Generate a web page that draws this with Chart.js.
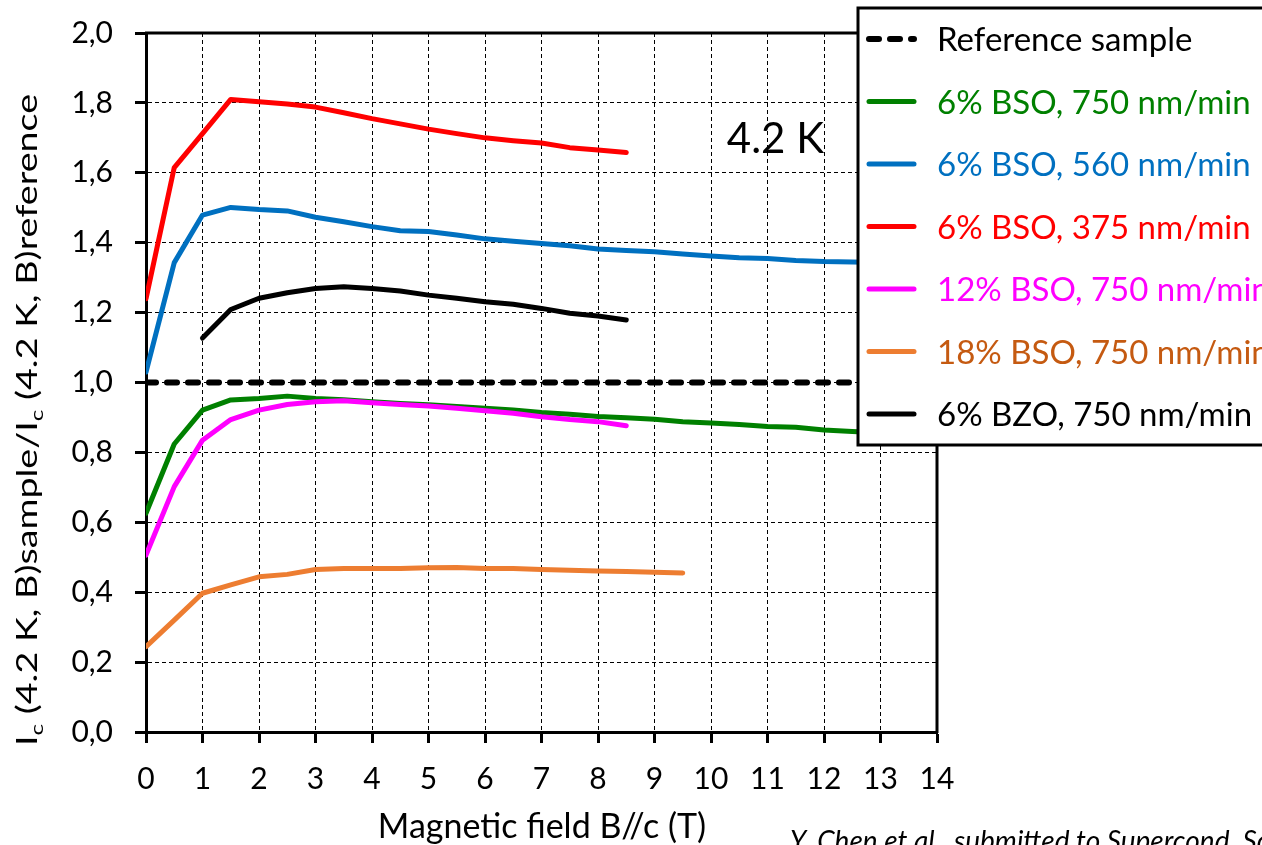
<!DOCTYPE html>
<html>
<head>
<meta charset="utf-8">
<script src="https://cdn.jsdelivr.net/npm/chart.js@4.4.0/dist/chart.umd.min.js"></script>
<style>
    html, body { margin: 0; padding: 0; background: #fff; overflow: hidden; }
    #wrap { width: 1262px; height: 845px; }
</style>
</head>
<body>
<div id="wrap"><canvas id="chart" width="1262" height="845"></canvas></div>
<script>
// magnetic field B//c (T)
const fieldB = [0, 0.5, 1, 1.5, 2, 2.5, 3, 3.5, 4, 4.5, 5, 5.5, 6, 6.5, 7, 7.5, 8, 8.5, 9, 9.5, 10, 10.5, 11, 11.5, 12, 12.5, 13];

// Ic(sample)/Ic(reference) at 4.2 K
const bso6_750 = [0.626, 0.824, 0.921, 0.950, 0.954, 0.961, 0.954, 0.951, 0.945, 0.940, 0.936, 0.931, 0.926, 0.921, 0.914, 0.909, 0.903, 0.899, 0.895, 0.888, 0.884, 0.880, 0.874, 0.872, 0.864, 0.860, 0.856];
const bso6_560 = [1.030, 1.343, 1.479, 1.501, 1.495, 1.491, 1.473, 1.460, 1.446, 1.434, 1.432, 1.422, 1.411, 1.404, 1.398, 1.391, 1.382, 1.378, 1.374, 1.368, 1.362, 1.357, 1.355, 1.349, 1.346, 1.345, 1.343];
const bso6_375 = [1.240, 1.615, 1.712, 1.810, 1.803, 1.797, 1.788, 1.772, 1.755, 1.740, 1.725, 1.712, 1.700, 1.692, 1.685, 1.672, 1.665, 1.658];
const bso12_750 = [0.506, 0.702, 0.835, 0.894, 0.921, 0.937, 0.945, 0.948, 0.942, 0.937, 0.933, 0.926, 0.919, 0.912, 0.902, 0.894, 0.888, 0.876];
const bso18_750 = [0.244, 0.320, 0.397, 0.421, 0.444, 0.451, 0.465, 0.468, 0.468, 0.468, 0.470, 0.471, 0.468, 0.468, 0.465, 0.463, 0.461, 0.459, 0.457, 0.455];
const bzo6_750 = [1.127, 1.209, 1.241, 1.257, 1.269, 1.274, 1.269, 1.262, 1.250, 1.241, 1.231, 1.224, 1.212, 1.198, 1.190, 1.179]; // from 1 T

const refField = [0, 14];
const refValue = [1, 1];

const xTickLabels = ['0', '1', '2', '3', '4', '5', '6', '7', '8', '9', '10', '11', '12', '13', '14'];
const yTickLabels = ['0,0', '0,2', '0,4', '0,6', '0,8', '1,0', '1,2', '1,4', '1,6', '1,8', '2,0'];

const seriesNames = ['Reference sample', '6% BSO, 750 nm/min', '6% BSO, 560 nm/min', '6% BSO, 375 nm/min',
    '12% BSO, 750 nm/min', '18% BSO, 750 nm/min', '6% BZO, 750 nm/min'];

function pts(xs, ys) {
    return ys.map((y, i) => ({ x: xs[i], y: y }));
}

function lineSet(label, xs, ys, color, textColor, order) {
    return {
        label: label,
        data: pts(xs, ys),
        borderColor: color,
        backgroundColor: color,
        textColor: textColor,
        borderWidth: 5,
        pointRadius: 0,
        tension: 0,
        fill: false,
        borderJoinStyle: 'round',
        borderCapStyle: 'round',
        order: order
    };
}

const datasets = [
    Object.assign(lineSet(seriesNames[0], refField, refValue, '#000', '#000', 0), { borderDash: [10, 11], borderWidth: 6 }),
    lineSet(seriesNames[1], fieldB, bso6_750, '#008000', '#008000', 3),
    lineSet(seriesNames[2], fieldB, bso6_560, '#0070C0', '#0070C0', 2),
    lineSet(seriesNames[3], fieldB, bso6_375, '#FF0000', '#FF0000', 2),
    lineSet(seriesNames[4], fieldB, bso12_750, '#FF00FF', '#FF00FF', 1),
    lineSet(seriesNames[5], fieldB, bso18_750, '#ED7D31', '#C55A11', 2),
    lineSet(seriesNames[6], fieldB.slice(2), bzo6_750, '#000000', '#000000', 2)
];

const FONT = 'Lato';

// frame, titles, annotation and boxed legend
const overlay = {
    id: 'overlay',
    afterDraw(chart) {
        const ctx = chart.ctx;
        const a = chart.chartArea;
        const xs = chart.scales.x, ys = chart.scales.y;
        ctx.save();

        // top and right frame
        ctx.strokeStyle = '#000';
        ctx.lineWidth = 3;
        ctx.beginPath();
        ctx.moveTo(a.left - 1, a.top);
        ctx.lineTo(a.right, a.top);
        ctx.lineTo(a.right, a.bottom + 1);
        ctx.stroke();

        // annotation
        ctx.fillStyle = '#000';
        ctx.font = '42px ' + FONT;
        ctx.textAlign = 'left';
        ctx.textBaseline = 'alphabetic';
        ctx.fillText('4.2 K', xs.getPixelForValue(10.28), ys.getPixelForValue(1.657));

        // x title
        ctx.font = '34px ' + FONT;
        ctx.textAlign = 'center';
        ctx.fillText('Magnetic field B//c (T)', 542, 838);

        // citation (cut at the bottom edge)
        ctx.font = 'italic 28px ' + FONT;
        ctx.textAlign = 'left';
        ctx.fillText('Y. Chen et al., submitted to Supercond. Sci. Technol.', 790, 851);

        // y title with subscripts, squeezed to length
        const parts = [['I', 0], ['c', 1], [' (4.2 K, B)sample/', 0], ['I', 0], ['c', 1], [' (4.2 K, B)reference', 0]];
        const big = '28px ' + FONT, small = '18px ' + FONT;
        let total = 0;
        parts.forEach(p => { ctx.font = p[1] ? small : big; total += ctx.measureText(p[0]).width; });
        const target = 652;
        ctx.translate(37, 420);
        ctx.rotate(-Math.PI / 2);
        ctx.scale(target / total, 1);
        let px = -total / 2;
        parts.forEach(p => {
            ctx.font = p[1] ? small : big;
            ctx.fillText(p[0], px, p[1] ? 6 : 0);
            px += ctx.measureText(p[0]).width;
        });
        ctx.setTransform(1, 0, 0, 1, 0, 0);

        // legend box
        const bx = 858, by = 8, bw = 420, bh = 437;
        ctx.fillStyle = '#fff';
        ctx.fillRect(bx, by, bw, bh);
        ctx.lineWidth = 3;
        ctx.strokeStyle = '#000';
        ctx.strokeRect(bx, by, bw, bh);
        ctx.font = '33px ' + FONT;
        ctx.textAlign = 'left';
        ctx.textBaseline = 'alphabetic';
        chart.data.datasets.forEach((ds, i) => {
            const ry = 39 + i * 62.5;
            ctx.save();
            ctx.strokeStyle = ds.borderColor;
            ctx.lineWidth = ds.borderDash ? 6 : 5;
            ctx.lineCap = 'round';
            ctx.setLineDash(ds.borderDash ? [10, 11] : []);
            ctx.beginPath();
            ctx.moveTo(869, ry);
            ctx.lineTo(914, ry);
            ctx.stroke();
            ctx.restore();
            ctx.fillStyle = ds.textColor;
            ctx.fillText(ds.label, 937, ry + 12);
        });
        ctx.restore();
    }
};

Chart.defaults.font.family = FONT;
Chart.defaults.color = '#000';

new Chart(document.getElementById('chart'), {
    type: 'line',
    data: { datasets: datasets },
    options: {
        responsive: false,
        animation: false,
        events: [],
        layout: { padding: { top: 33, right: 325, left: 0, bottom: 0 } },
        plugins: { legend: { display: false }, tooltip: { enabled: false } },
        scales: {
            x: {
                type: 'linear',
                min: 0, max: 14,
                afterFit: s => { s.height = 113; s.paddingLeft = 0; s.paddingRight = 0; },
                ticks: {
                    stepSize: 1, autoSkip: false, maxRotation: 0,
                    padding: 18,
                    font: { size: 30 },
                    callback: (v, i) => xTickLabels[i]
                },
                grid: { color: '#000', lineWidth: 1, tickLength: 11, tickWidth: 3, tickColor: '#000', tickBorderDash: [] },
                border: { color: '#000', width: 3, dash: [4, 3] }
            },
            y: {
                min: 0, max: 2,
                afterFit: s => { s.width = 146; s.paddingTop = 0; s.paddingBottom = 0; },
                ticks: {
                    stepSize: 0.2, autoSkip: false,
                    padding: 22,
                    font: { size: 30 },
                    callback: (v, i) => yTickLabels[i]
                },
                grid: { color: '#000', lineWidth: 1, tickLength: 11, tickWidth: 3, tickColor: '#000', tickBorderDash: [] },
                border: { color: '#000', width: 3, dash: [4, 3] }
            }
        }
    },
    plugins: [overlay]
});
</script>
</body>
</html>
